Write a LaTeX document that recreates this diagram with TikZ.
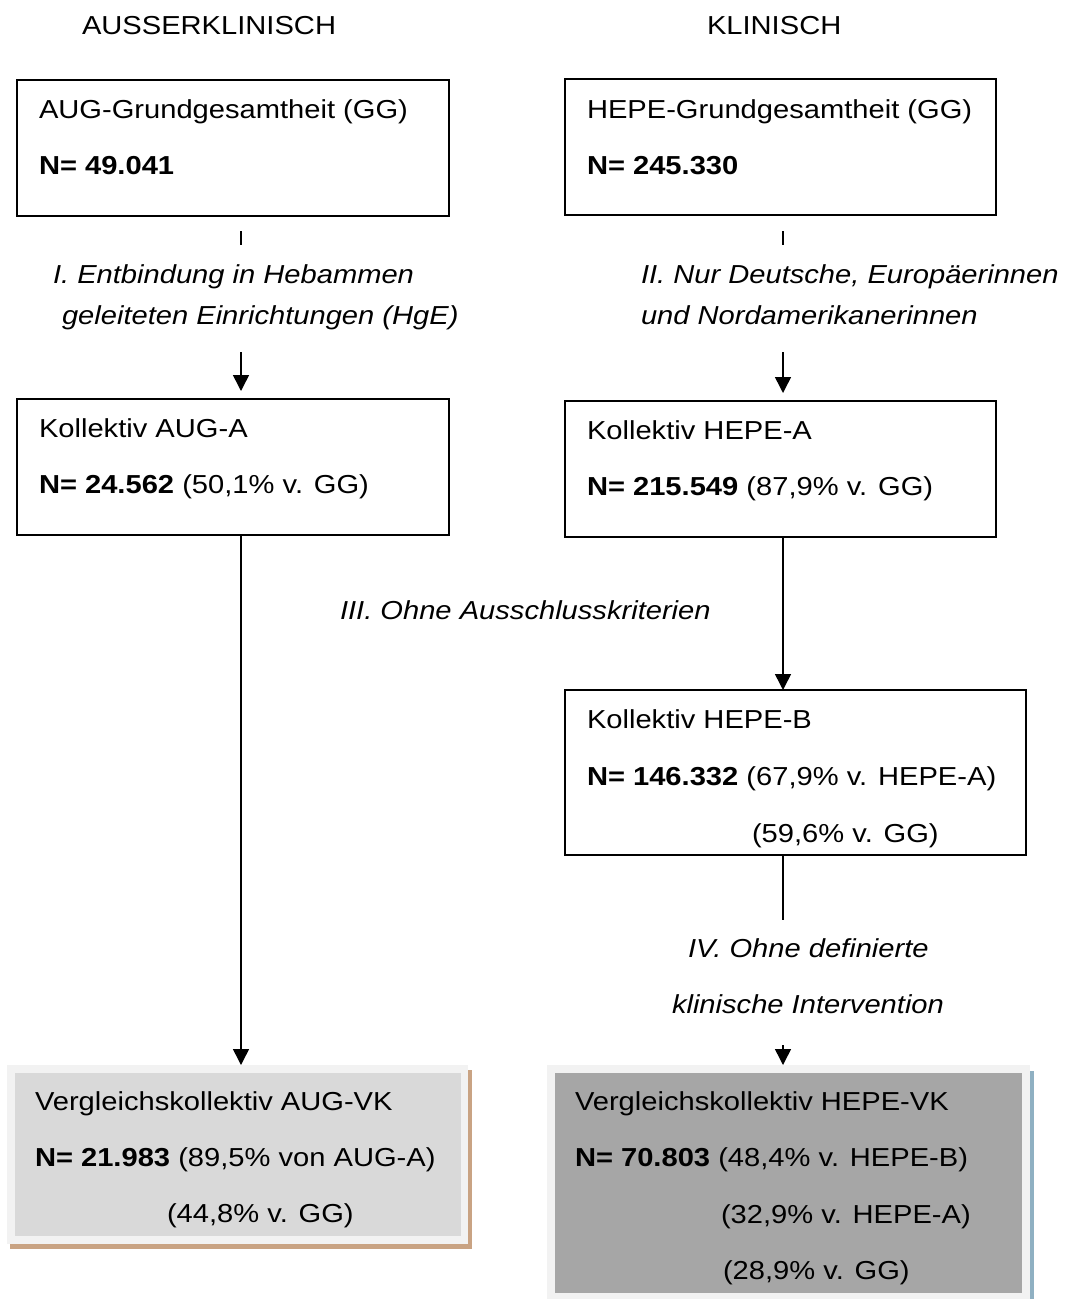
\documentclass[tikz,border=0pt]{standalone}
\usepackage{fontspec}
\setmainfont{Liberation Sans}[FakeStretch=1.12]
\usetikzlibrary{arrows.meta}
\definecolor{frameg}{HTML}{F2F2F2}
\definecolor{lightfill}{HTML}{D9D9D9}
\definecolor{darkfill}{HTML}{A6A6A6}
\definecolor{shadowbrown}{HTML}{C9A383}
\definecolor{shadowblue}{HTML}{8FB0C2}
\begin{document}
\begin{tikzpicture}[x=1pt,y=-1pt,
  every node/.style={font=\fontsize{26}{30}\selectfont},
  box/.style={draw, line width=1.5pt, anchor=north west, inner sep=0pt, outer sep=0pt},
  txt/.style={anchor=base west, inner sep=0pt, outer sep=0pt},
  lbl/.style={txt, font=\fontsize{26}{30}\selectfont\itshape},
  conn/.style={line width=1.5pt},
  arr/.style={line width=1.5pt, -{Triangle[width=16pt,length=16pt]}},
  plate/.style={anchor=north west, inner sep=0pt, outer sep=0pt}
]
\useasboundingbox (0,0) rectangle (1071,1299);

% headers
\node[txt] (h1) at (82,34) {AUSSERKLINISCH};
\node[txt] (h2) at (707,34) {KLINISCH};

% top boxes
\node[box, minimum width=432pt, minimum height=136pt] (gg1) at (17,80) {};
\node[txt] (gg1a) at (39,118) {AUG-Grundgesamtheit (GG)};
\node[txt] (gg1b) at (39,174) {\textbf{N= 49.041}};

\node[box, minimum width=431pt, minimum height=136pt] (gg2) at (565,79) {};
\node[txt] (gg2a) at (587,118) {HEPE-Grundgesamtheit (GG)};
\node[txt] (gg2b) at (587,174) {\textbf{N= 245.330}};

% labels I / II
\node[lbl] (l1a) at (53,283) {I. Entbindung in Hebammen};
\node[lbl] (l1b) at (62,324) {geleiteten Einrichtungen (HgE)};
\node[lbl] (l2a) at (641,283) {II. Nur Deutsche, Europäerinnen};
\node[lbl] (l2b) at (641,324) {und Nordamerikanerinnen};

% A boxes
\node[box, minimum width=432pt, minimum height=136pt] (ka1) at (17,399) {};
\node[txt] (ka1a) at (39,437) {Kollektiv AUG-A};
\node[txt] (ka1b) at (39,493) {\textbf{N= 24.562} (50,1\% v. GG)};

\node[box, minimum width=431pt, minimum height=136pt] (ka2) at (565,401) {};
\node[txt] (ka2a) at (587,439) {Kollektiv HEPE-A};
\node[txt] (ka2b) at (587,495) {\textbf{N= 215.549} (87,9\% v. GG)};

% label III
\node[lbl] (l3) at (340,619) {III. Ohne Ausschlusskriterien};

% B box
\node[box, minimum width=461pt, minimum height=165pt] (kb2) at (565,690) {};
\node[txt] (kb2a) at (587,728) {Kollektiv HEPE-B};
\node[txt] (kb2b) at (587,785) {\textbf{N= 146.332} (67,9\% v. HEPE-A)};
\node[txt] (kb2c) at (752,842) {(59,6\% v. GG)};

% label IV
\node[lbl] (l4a) at (688,957) {IV. Ohne definierte};
\node[lbl] (l4b) at (672,1013) {klinische Intervention};

% VK left
\node[plate, fill=shadowbrown, minimum width=462pt, minimum height=179pt] (vk1s) at (10,1070) {};
\node[plate, fill=frameg, minimum width=461pt, minimum height=179pt] (vk1) at (7,1065) {};
\node[plate, fill=lightfill, minimum width=446pt, minimum height=163pt] (vk1i) at (15,1073) {};
\node[txt] (vk1a) at (35,1110) {Vergleichskollektiv AUG-VK};
\node[txt] (vk1b) at (35,1166) {\textbf{N= 21.983} (89,5\% von AUG-A)};
\node[txt] (vk1c) at (167,1222) {(44,8\% v. GG)};

% VK right
\node[plate, fill=shadowblue, minimum width=4pt, minimum height=229pt] (vk2s) at (1030,1071) {};
\node[plate, fill=frameg, minimum width=483pt, minimum height=235pt] (vk2) at (547,1065) {};
\node[plate, fill=darkfill, minimum width=467pt, minimum height=220pt] (vk2i) at (555,1073) {};
\node[txt] (vk2a) at (575,1110) {Vergleichskollektiv HEPE-VK};
\node[txt] (vk2b) at (575,1166) {\textbf{N= 70.803} (48,4\% v. HEPE-B)};
\node[txt] (vk2c) at (721,1223) {(32,9\% v. HEPE-A)};
\node[txt] (vk2d) at (723,1279) {(28,9\% v. GG)};

% connectors left
\coordinate (t1s) at (241,231);
\coordinate (t1e) at (241,245);
\coordinate (a1s) at (241,352);
\coordinate (a1e) at (241,391);
\draw[conn] (t1s) -- (t1e);
\draw[arr] (a1s) -- (a1e);
\draw[arr] (ka1.south -| a1s) -- (vk1.north -| a1s);

% connectors right
\coordinate (t2s) at (783,231);
\coordinate (t2e) at (783,245);
\coordinate (a2s) at (783,352);
\coordinate (a2e) at (783,393);
\draw[conn] (t2s) -- (t2e);
\draw[arr] (a2s) -- (a2e);
\draw[arr] (ka2.south -| a2s) -- (kb2.north -| a2s);
\coordinate (b4e) at (783,920);
\draw[conn] (kb2.south -| a2s) -- (b4e);
\coordinate (a4s) at (783,1045);
\draw[arr] (a4s) -- (vk2.north -| a4s);
\end{tikzpicture}
\end{document}
